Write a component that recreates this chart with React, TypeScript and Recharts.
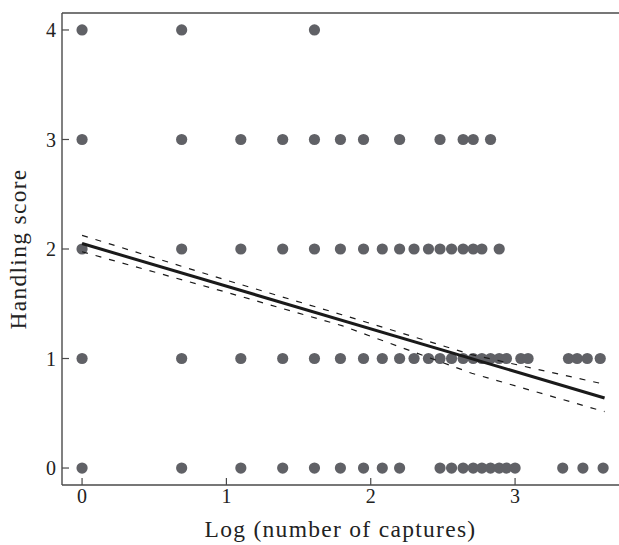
import { ReferenceLine, Scatter, ScatterChart, XAxis, YAxis } from "recharts";

// log(number of captures) per handling score
const score4 = [0, 0.69, 1.61];
const score3 = [0, 0.69, 1.1, 1.39, 1.61, 1.79, 1.95, 2.2, 2.48, 2.64, 2.71, 2.83];
const score2 = [0, 0.69, 1.1, 1.39, 1.61, 1.79, 1.95, 2.08, 2.2, 2.3, 2.4, 2.48, 2.56, 2.64, 2.71, 2.77, 2.89];
const score1 = [
  0, 0.69, 1.1, 1.39, 1.61, 1.79, 1.95, 2.08, 2.2, 2.3, 2.4, 2.48, 2.56, 2.64, 2.71, 2.77, 2.83, 2.89, 2.94,
  3.04, 3.09, 3.37, 3.43, 3.5, 3.59,
];
const score0 = [
  0, 0.69, 1.1, 1.39, 1.61, 1.79, 1.95, 2.08, 2.2, 2.48, 2.56, 2.64, 2.71, 2.77, 2.83, 2.89, 2.94, 3.0, 3.33,
  3.47, 3.61,
];

// fitted line and 95% band
const fitX = [0, 3.62];
const fitY = [2.05, 0.64];
const bandX = [0, 1, 1.8, 2.7, 3.62];
const bandUpper = [2.125, 1.715, 1.4, 1.035, 0.765];
const bandLower = [1.975, 1.605, 1.3, 0.865, 0.515];

const xTicks = [0, 1, 2, 3];
const yTicks = [0, 1, 2, 3, 4];

const rows: [number, number[]][] = [
  [4, score4],
  [3, score3],
  [2, score2],
  [1, score1],
  [0, score0],
];
const points = rows.flatMap(([score, xs]) => xs.map((x) => ({ x, y: score })));
const fit = fitX.map((x, i) => ({ x, y: fitY[i] }));
const upper = bandX.map((x, i) => ({ x, y: bandUpper[i] }));
const lower = bandX.map((x, i) => ({ x, y: bandLower[i] }));

const FONT = "Liberation Serif, Times New Roman, serif";
const AXIS = "#4a4a4a";
const DOT = "#606166";
const tickStyle = { fontFamily: FONT, fontSize: 20, fill: "#222" };
const labelStyle = { fontFamily: FONT, fontSize: 23.5, fill: "#222", letterSpacing: 1.3 };

const Dot = (props: any) => <circle cx={props.cx} cy={props.cy} r={5.6} fill={DOT} />;
const NoShape = () => null;

export default function App() {
  return (
    <div style={{ position: "absolute", left: 0, top: 0, background: "#fff", fontFamily: FONT }}>
      <ScatterChart width={619} height={545} margin={{ top: 13, right: 0, bottom: 0, left: 0 }}>
        <XAxis
          type="number"
          dataKey="x"
          domain={[-0.139, 3.72]}
          allowDataOverflow
          ticks={xTicks}
          height={60}
          tickSize={-7}
          tickMargin={11}
          axisLine={{ stroke: AXIS, strokeWidth: 1.4 }}
          tickLine={{ stroke: AXIS, strokeWidth: 1.2 }}
          tick={tickStyle}
          label={{
            value: "Log (number of captures)",
            position: "insideBottom",
            offset: 8,
            style: labelStyle,
          }}
        />
        <YAxis
          type="number"
          dataKey="y"
          domain={[-0.155, 4.155]}
          allowDataOverflow
          ticks={yTicks}
          width={62}
          tickSize={-7}
          tickMargin={13}
          axisLine={{ stroke: AXIS, strokeWidth: 1.4 }}
          tickLine={{ stroke: AXIS, strokeWidth: 1.2 }}
          tick={tickStyle}
          label={{
            content: (p: any) => {
              const vb = p.viewBox || {};
              const cx = vb.x + 26;
              const cy = vb.y + vb.height / 2;
              return (
                <text
                  x={cx}
                  y={cy}
                  transform={`rotate(-90 ${cx} ${cy})`}
                  textAnchor="middle"
                  style={labelStyle}
                >
                  Handling score
                </text>
              );
            },
          }}
        />
        <ReferenceLine y={4.155} stroke={AXIS} strokeWidth={1.4} />
        <Scatter data={points} shape={Dot} isAnimationActive={false} />
        <Scatter
          data={upper}
          shape={NoShape}
          line={{ stroke: "#1a1a1a", strokeWidth: 1.2, strokeDasharray: "6 8" }}
          isAnimationActive={false}
        />
        <Scatter
          data={lower}
          shape={NoShape}
          line={{ stroke: "#1a1a1a", strokeWidth: 1.2, strokeDasharray: "6 8" }}
          isAnimationActive={false}
        />
        <Scatter
          data={fit}
          shape={NoShape}
          line={{ stroke: "#1a1a1a", strokeWidth: 3 }}
          isAnimationActive={false}
        />
      </ScatterChart>
    </div>
  );
}
